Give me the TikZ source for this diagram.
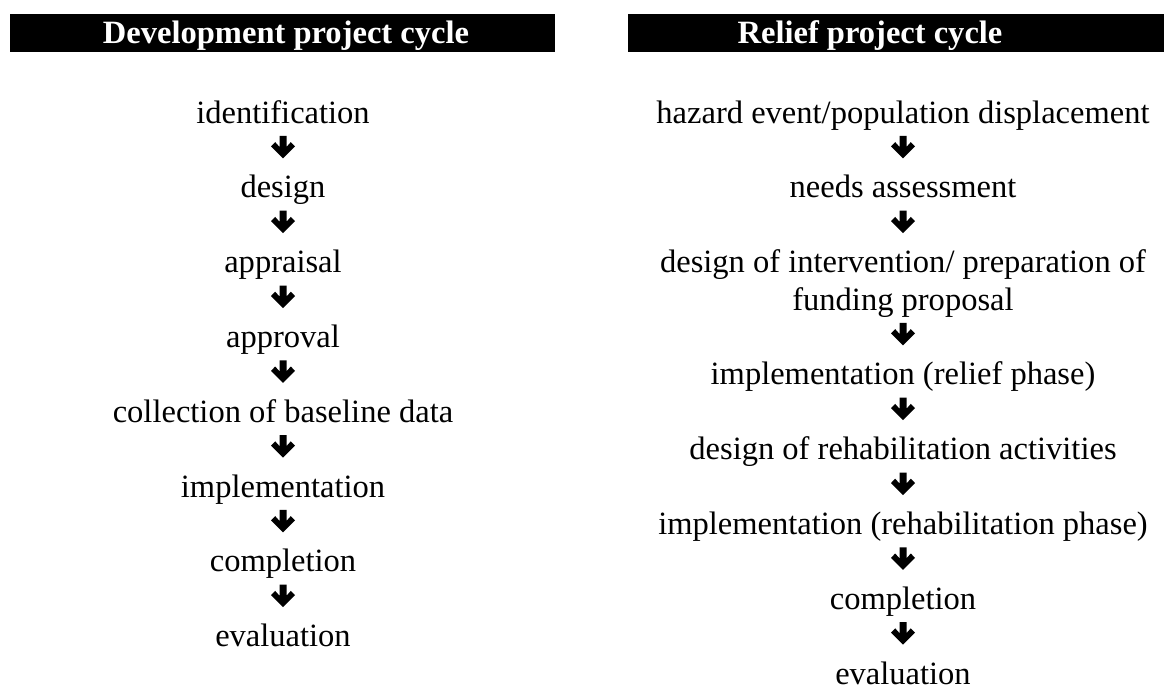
\documentclass[tikz,border=0pt]{standalone}
\usepackage{fontspec}
\setmainfont{Liberation Serif}
\usetikzlibrary{calc}

\tikzset{
  stagetext/.style={anchor=base, inner sep=0pt, align=center, font=\fontsize{12}{13.8}\selectfont},
  headtext/.style={anchor=base, inner sep=0pt, text=white, font=\fontsize{12}{13.8}\selectfont\bfseries},
  headbar/.style={fill=black},
  glyph/.style={fill=black}
}

% bold down arrow on the line below node #1
\newcommand{\downglyph}[1]{%
  \fill[glyph, shift={($(#1.base)+(0,23.9)$)}] (-3.5,-11) -- (3.5,-11) -- (3.5,0) -- (7.8,-4.8)
    -- (12,-0.5) -- (0,11.5) -- (-12,-0.5) -- (-7.8,-4.8) -- (-3.5,0) -- cycle;}

\begin{document}
\begin{tikzpicture}[x=0.369pt, y=-0.369pt]
        \useasboundingbox (0,0) rectangle (1164,688);
        % headers
        \fill[headbar] (10,14) rectangle (555,52);
        \fill[headbar] (628,14) rectangle (1164,52);
        \node[headtext] (devhead) at (286,43) {Development project cycle};
        \node[headtext] (relhead) at (870,43) {Relief project cycle};
        % development cycle
        \foreach \txt [count=\i] in {identification, design, appraisal, approval, collection of baseline data, implementation, completion, evaluation}
            \node[stagetext] (dev\i) at (283, {123+74.8*(\i-1)}) {\txt};
        \foreach \i in {1,...,7}
            \downglyph{dev\i};
        % relief cycle
        \foreach \ln/\txt [count=\i] in {0/{hazard event/population displacement}, 2/{needs assessment}, 5/{design of intervention/ preparation of\\funding proposal}, 7/{implementation (relief phase)}, 9/{design of rehabilitation activities}, 11/{implementation (rehabilitation phase)}, 13/{completion}, 15/{evaluation}}
            \node[stagetext] (rel\i) at (903, {123+37.4*\ln}) {\txt};
        \foreach \i in {1,...,7}
            \downglyph{rel\i};
\end{tikzpicture}
\end{document}
